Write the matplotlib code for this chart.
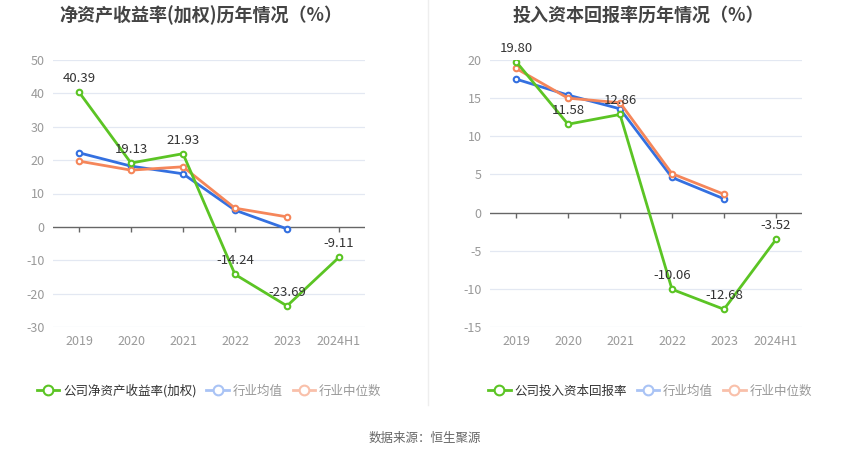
import matplotlib
matplotlib.use('Agg')
import matplotlib.pyplot as plt
from matplotlib.lines import Line2D
import numpy as np

plt.rcParams['font.family'] = ['Noto Sans CJK SC', 'DejaVu Sans']

years = ['2019', '2020', '2021', '2022', '2023', '2024H1']

roe_company = [40.39, 19.13, 21.93, -14.24, -23.69, -9.11]
roe_avg = [22.2, 18.2, 15.9, 5.0, -0.6]
roe_median = [19.7, 17.0, 18.0, 5.6, 3.0]

roic_company = [19.80, 11.58, 12.86, -10.06, -12.68, -3.52]
roic_avg = [17.5, 15.4, 13.6, 4.6, 1.8]
roic_median = [18.9, 15.0, 14.4, 5.1, 2.4]

GREEN = '#5bc424'
BLUE = '#3470e0'
ORANGE = '#f5865a'

W, H = 850, 459
fig = plt.figure(figsize=(W / 100, H / 100), dpi=100)


def px_axes(x0, y0, x1, y1):
    return fig.add_axes([x0 / W, 1 - y1 / H, (x1 - x0) / W, (y1 - y0) / H])


def draw_panel(ax, company, avg, median, ylim, yticks, title, tx, lx, name):
    x = np.arange(len(years))
    ax.set_xlim(-0.5, len(years) - 0.5)
    ax.set_ylim(*ylim)
    for s in ax.spines.values():
        s.set_visible(False)
    ax.set_yticks(yticks)
    ax.set_yticklabels([str(t) for t in yticks])
    ax.tick_params(axis='y', length=0, labelsize=9, labelcolor='#999999', pad=6)
    ax.set_xticks(x)
    ax.set_xticklabels(years)
    ax.tick_params(axis='x', length=0, labelsize=9, labelcolor='#999999', pad=6)
    for t in yticks:
        if t != 0:
            ax.axhline(t, color='#e3e8f2', lw=0.9, zorder=0)
    ax.axhline(0, color='#666666', lw=1, zorder=1)
    tick_len = (ylim[1] - ylim[0]) * 5 / 267
    ax.vlines(x, -tick_len, 0, color='#666666', lw=1, zorder=1)

    mk = dict(marker='o', markersize=4, markerfacecolor='white', markeredgewidth=1.5)
    ax.plot(x[:len(avg)], avg, color=BLUE, lw=2, zorder=3, **mk)
    ax.plot(x[:len(median)], median, color=ORANGE, lw=2, zorder=3, **mk)
    ax.plot(x, company, color=GREEN, lw=2, zorder=4, **mk)
    off = (ylim[1] - ylim[0]) * 7 / 267
    for xi, v in zip(x, company):
        ax.text(xi, v + off, f'{v:.2f}', ha='center', va='bottom', fontsize=9.5,
                color='#333333', zorder=5)

    fig.text(tx / W, 1 - 15 / H, title, ha='center', va='center', fontsize=13,
             fontweight='bold', color='#444444')

    handles = [
        Line2D([], [], color=GREEN, lw=2, marker='o', markersize=7,
               markerfacecolor='white', markeredgewidth=1.5),
        Line2D([], [], color='#a9c3f5', lw=2, marker='o', markersize=7,
               markerfacecolor='white', markeredgewidth=1.5),
        Line2D([], [], color='#f9c0aa', lw=2, marker='o', markersize=7,
               markerfacecolor='white', markeredgewidth=1.5),
    ]
    leg = fig.legend(handles, [name, '行业均值', '行业中位数'], loc='center',
                     bbox_to_anchor=(lx / W, 1 - 391 / H), ncol=3, frameon=False,
                     fontsize=9, handlelength=1.8, handletextpad=0.3, columnspacing=0.8)
    cols = ['#333333', '#999999', '#999999']
    for t, c in zip(leg.get_texts(), cols):
        t.set_color(c)


ax1 = px_axes(53, 60, 365, 327)
draw_panel(ax1, roe_company, roe_avg, roe_median, (-30, 50),
           [-30, -20, -10, 0, 10, 20, 30, 40, 50],
           '净资产收益率(加权)历年情况（%）', 201, 209, '公司净资产收益率(加权)')

ax2 = px_axes(490, 60, 802, 327)
draw_panel(ax2, roic_company, roic_avg, roic_median, (-15, 20),
           [-15, -10, -5, 0, 5, 10, 15, 20],
           '投入资本回报率历年情况（%）', 638, 650, '公司投入资本回报率')

fig.add_artist(Line2D([428 / W, 428 / W], [1 - 0 / H, 1 - 405 / H],
                      color='#eeeeee', lw=1))
fig.text(425 / W, 1 - 438 / H, '数据来源：恒生聚源', ha='center', va='center',
         fontsize=9, color='#666666')

fig.savefig('out.png', dpi=100)
